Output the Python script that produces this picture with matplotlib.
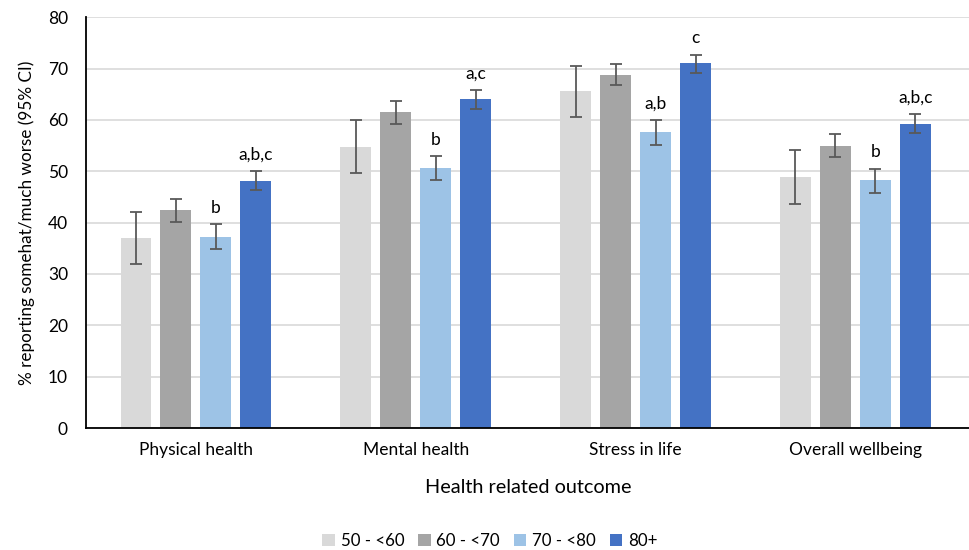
import numpy as np
import matplotlib
matplotlib.use("Agg")
import matplotlib.pyplot as plt

plt.rcParams['font.family'] = ['Lato', 'DejaVu Sans']

# Outcomes and age groups
outcomes = ["Physical health", "Mental health", "Stress in life", "Overall wellbeing"]
age_groups = ["50 - <60", "60 - <70", "70 - <80", "80+"]
colors = ["#d9d9d9", "#a5a5a5", "#9dc3e6", "#4472c4"]

# Percentages per age group (one value per outcome)
pct_50_60 = [37.0, 54.8, 65.7, 48.9]
pct_60_70 = [42.4, 61.5, 68.8, 55.0]
pct_70_80 = [37.2, 50.6, 57.6, 48.2]
pct_80_up = [48.1, 64.0, 71.0, 59.2]

# 95% CI bounds
lo_50_60 = [31.9, 49.6, 60.6, 43.7]
hi_50_60 = [42.0, 60.0, 70.5, 54.2]
lo_60_70 = [40.1, 59.2, 66.7, 52.7]
hi_60_70 = [44.6, 63.6, 70.9, 57.3]
lo_70_80 = [34.8, 48.3, 55.2, 45.7]
hi_70_80 = [39.7, 52.9, 60.0, 50.5]
lo_80_up = [46.3, 62.1, 69.2, 57.4]
hi_80_up = [50.0, 65.8, 72.7, 61.2]

# Significance letters
sig_70_80 = ["b", "b", "a,b", "b"]
sig_80_up = ["a,b,c", "a,c", "c", "a,b,c"]

values = [pct_50_60, pct_60_70, pct_70_80, pct_80_up]
lows = [lo_50_60, lo_60_70, lo_70_80, lo_80_up]
highs = [hi_50_60, hi_60_70, hi_70_80, hi_80_up]
sigs = [None, None, sig_70_80, sig_80_up]

fig = plt.figure(figsize=(9.7, 5.5), dpi=100)
ax = fig.add_axes([0.0887, 0.2218, 0.911, 0.747])

x = np.arange(len(outcomes))
step = 40 / 220
width = 31 / 220

for i, (vals, lo, hi, sig) in enumerate(zip(values, lows, highs, sigs)):
    xs = x + (i - 1.5) * step
    vals = np.array(vals)
    yerr = [vals - np.array(lo), np.array(hi) - vals]
    ax.bar(xs, vals, width, color=colors[i], label=age_groups[i], zorder=2)
    ax.errorbar(xs, vals, yerr=yerr, fmt='none', ecolor="#595959",
                elinewidth=1.3, capsize=4, capthick=1.3, zorder=3)
    if sig:
        for xi, h, s in zip(xs, hi, sig):
            ax.text(xi, h + 1.6, s, ha='center', va='bottom', fontsize=12.5,
                    color="black")

ax.set_xlim(-0.5, 3.52)
ax.set_ylim(0, 80)
ax.set_yticks(range(0, 81, 10))
ax.set_xticks(x)
ax.set_xticklabels(outcomes)
ax.tick_params(axis='both', labelsize=12.5, length=0, colors="#000000")
ax.tick_params(axis='y', pad=13)
ax.tick_params(axis='x', pad=10)
ax.grid(axis='y', color="#d9d9d9", linewidth=1.2, zorder=0)
ax.set_axisbelow(True)
for side in ["top", "right"]:
    ax.spines[side].set_visible(False)
ax.spines["left"].set_color("black")
ax.spines["bottom"].set_color("black")
ax.spines["left"].set_linewidth(1.3)
ax.spines["bottom"].set_linewidth(1.3)

ax.set_ylabel("% reporting somehat/much worse (95% CI)", fontsize=12.3, labelpad=9)
ax.set_xlabel("Health related outcome", fontsize=14.3, labelpad=15)

fig.legend(*ax.get_legend_handles_labels(), loc='center',
           bbox_to_anchor=(0.505, 0.016), ncol=4, frameon=False,
           fontsize=12.2, handlelength=0.75, handleheight=0.75, handletextpad=0.35,
           columnspacing=0.8)

fig.savefig("out.png", dpi=100)
